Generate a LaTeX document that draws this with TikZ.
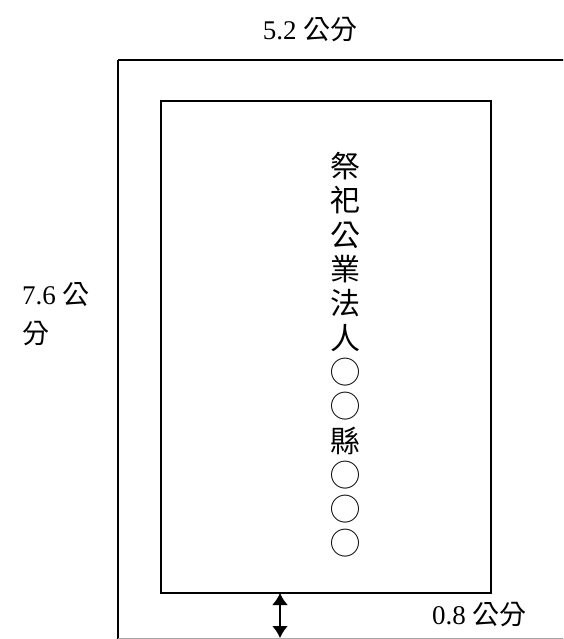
\documentclass[tikz,border=0pt]{standalone}
\usepackage{fontspec}
\setmainfont{Liberation Serif}
\newfontfamily\cjk{Noto Sans CJK TC}
\usetikzlibrary{arrows.meta}
\begin{document}
\begin{tikzpicture}[x=1pt,y=-1pt,
  frame/.style={draw=black,line width=1.6pt},
  label/.style={inner sep=0pt,font=\fontsize{27}{39}\selectfont},
  gap/.style={line width=2pt,{Latex[length=12pt,width=16pt]}-{Latex[length=12pt,width=16pt]}}]
\useasboundingbox (0,0) rectangle (563,639);
\clip (0,0) rectangle (563,639);
\fill[white] (0,0) rectangle (563,639);
% outer frame
\draw[frame] (118,60) -- (600,60);
\draw[frame] (118,60) -- (118,700);
\draw[draw=black!35,line width=1pt] (118,638.5) -- (600,638.5);
% inner frame
\node[frame,minimum width=330pt,minimum height=492pt,anchor=north west,inner sep=0pt] (inner) at (160,100) {};
% vertical name
\node[align=center,inner sep=0pt,font=\cjk\fontsize{30}{34.3}\selectfont] (name) at (345,355)
  {祭\\祀\\公\\業\\法\\人\\◯\\◯\\縣\\◯\\◯\\◯};
% labels
\node[label] (w) at (310,30) {5.2 {\cjk 公分}};
\node[label,align=left,anchor=west] (h) at (22,314) {7.6 {\cjk 公}\\{\cjk 分}};
\node[label,anchor=west] (m) at (432,615) {0.8 {\cjk 公分}};
% margin arrow
\coordinate (a1) at (280,593);
\coordinate (a2) at (280,638);
\draw[gap] (a1) -- (a2);
\end{tikzpicture}
\end{document}
